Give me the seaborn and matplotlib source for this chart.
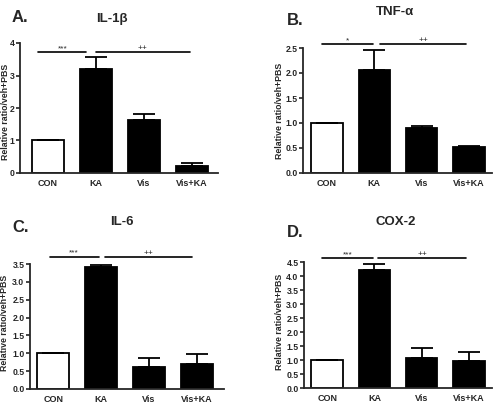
import numpy as np
import pandas as pd
import matplotlib
matplotlib.use('Agg')
import matplotlib.pyplot as plt
import seaborn as sns

sns.set_style('ticks')
plt.rcParams['font.family'] = ['Liberation Sans', 'DejaVu Sans']

groups = ['CON', 'KA', 'Vis', 'Vis+KA']

il1b_mean = [1.0, 3.20, 1.62, 0.20]
il1b_err = [0.0, 0.37, 0.20, 0.10]
tnfa_mean = [1.0, 2.07, 0.90, 0.51]
tnfa_err = [0.0, 0.40, 0.03, 0.03]
il6_mean = [1.0, 3.42, 0.63, 0.70]
il6_err = [0.0, 0.06, 0.25, 0.28]
cox2_mean = [1.0, 4.22, 1.08, 0.98]
cox2_err = [0.0, 0.21, 0.34, 0.29]

panels = [
    # letter, title, means, errs, ymax, yticks, fmt, sig y, stars
    ('A.', 'IL-1β', il1b_mean, il1b_err, 4.0, [0, 1, 2, 3, 4], '{:.0f}', 3.72, '***'),
    ('B.', 'TNF-α', tnfa_mean, tnfa_err, 2.5, [0, 0.5, 1.0, 1.5, 2.0, 2.5], '{:.1f}', 2.58, '*'),
    ('C.', 'IL-6', il6_mean, il6_err, 3.5, [0, 0.5, 1.0, 1.5, 2.0, 2.5, 3.0, 3.5], '{:.1f}', 3.70, '***'),
    ('D.', 'COX-2', cox2_mean, cox2_err, 4.5, [0, 0.5, 1.0, 1.5, 2.0, 2.5, 3.0, 3.5, 4.0, 4.5], '{:.1f}', 4.64, '***'),
]

W, H = 493, 403
fig = plt.figure(figsize=(W / 100, H / 100), dpi=100)

# pixel layout: axes box (left, right, bottom, top), xlim, title spots, ylabel spot
layout = [
    dict(box=(20, 218, 173, 43), xlim=(-0.58, 3.54), letter=(12, 22), title=(112, 22), ylab=(6, 112),
         sig1=(-0.2, 0.8), sig2=(1.0, 2.95)),
    dict(box=(303, 492, 173, 48), xlim=(-0.51, 3.49), letter=(287, 25), title=(395, 15), ylab=(279, 111),
         sig1=(-0.1, 0.97), sig2=(1.12, 2.95)),
    dict(box=(30, 224, 389, 264), xlim=(-0.49, 3.57), letter=(12, 232), title=(122, 225), ylab=(5, 323),
         sig1=(-0.08, 0.95), sig2=(1.08, 2.9)),
    dict(box=(304, 492, 388, 262), xlim=(-0.49, 3.49), letter=(287, 237), title=(396, 225), ylab=(279, 322),
         sig1=(-0.1, 0.97), sig2=(1.08, 2.95)),
]

for (letter, title, means, errs, ymax, yticks, fmt, sig_y, stars), lay in zip(panels, layout):
    l, r, b, t = lay['box']
    ax = fig.add_axes([l / W, 1 - b / H, (r - l) / W, (b - t) / H])
    df = pd.DataFrame({'group': groups, 'value': means})
    sns.barplot(data=df, x='group', y='value', hue='group', legend=False,
                palette=['white', 'black', 'black', 'black'], edgecolor='black',
                linewidth=1.3, width=0.67, ax=ax, errorbar=None)
    ax.errorbar(np.arange(4), means, yerr=[np.zeros(4), errs], fmt='none',
                ecolor='black', elinewidth=1.3, capsize=8, capthick=1.3)
    ax.set_xlim(*lay['xlim'])
    ax.set_ylim(0, ymax)
    ax.set_yticks(yticks)
    ax.set_yticklabels([fmt.format(v) for v in yticks], fontsize=6.2, fontweight='bold')
    ax.set_xticks(range(4))
    ax.set_xticklabels(groups, fontsize=6.5, fontweight='bold')
    ax.tick_params(axis='x', length=0, pad=4)
    ax.tick_params(axis='y', length=3, width=1.2, pad=1)
    ax.set_xlabel('')
    ax.set_ylabel('')
    for s in ['left', 'bottom']:
        ax.spines[s].set_linewidth(1.3)
    sns.despine(ax=ax)

    # significance bars
    for (x0, x1), lab in [(lay['sig1'], stars), (lay['sig2'], '++')]:
        ax.plot([x0, x1], [sig_y, sig_y], color='black', lw=1.2, clip_on=False)
        ax.text((x0 + x1) / 2, sig_y, lab, ha='center', va='bottom', fontsize=6, clip_on=False)

    fig.text(lay['letter'][0] / W, 1 - lay['letter'][1] / H, letter, fontsize=12,
             fontweight='bold', ha='left', va='baseline')
    fig.text(lay['title'][0] / W, 1 - lay['title'][1] / H, title, fontsize=9.5,
             fontweight='bold', ha='center', va='baseline')
    fig.text(lay['ylab'][0] / W, 1 - lay['ylab'][1] / H, 'Relative ratio/veh+PBS', fontsize=6.3,
             fontweight='bold', rotation=90, ha='center', va='center')

fig.savefig('out.png', dpi=100)
